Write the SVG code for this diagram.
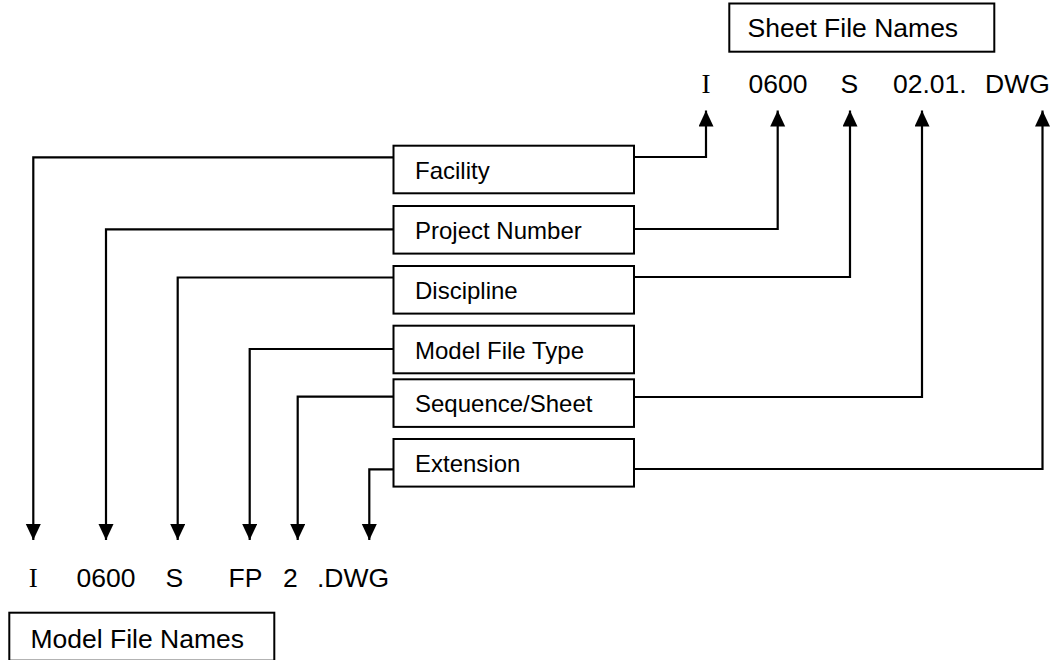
<svg xmlns="http://www.w3.org/2000/svg" width="1063" height="660" viewBox="0 0 1063 660">
<style>
  .box{fill:#fff;stroke:#000;stroke-width:2}
  .lbl{font-family:"Liberation Sans",Arial,sans-serif;font-size:24px;fill:#000}
  .hd{font-family:"Liberation Sans",Arial,sans-serif;font-size:26.5px;fill:#000}
  .ser{font-family:"Liberation Serif","Times New Roman",serif;font-size:27px;fill:#000}
  .conn{fill:none;stroke:#000;stroke-width:2.2;marker-end:url(#ah)}
</style>
<defs>
  <marker id="ah" markerUnits="userSpaceOnUse" markerWidth="15" markerHeight="16" refX="16" refY="7.5" orient="auto">
    <path d="M0,0 L16,7.5 L0,15 z" fill="#000"/>
  </marker>
</defs>
<rect width="1063" height="660" fill="#fff"/>
<g id="connectors">
  <polyline class="conn" points="393.5,157.3 33.3,157.3 33.3,540"/>
  <polyline class="conn" points="393.5,229.3 106,229.3 106,540"/>
  <polyline class="conn" points="393.5,277.5 177.7,277.5 177.7,540"/>
  <polyline class="conn" points="393.5,349 249.7,349 249.7,540"/>
  <polyline class="conn" points="393.5,396.7 297.7,396.7 297.7,540"/>
  <polyline class="conn" points="393.5,469.3 369.3,469.3 369.3,540"/>
  <polyline class="conn" points="634,157 706,157 706,110.5"/>
  <polyline class="conn" points="634,229 777.7,229 777.7,110.5"/>
  <polyline class="conn" points="634,277 850,277 850,110.5"/>
  <polyline class="conn" points="634,397 922,397 922,110.5"/>
  <polyline class="conn" points="634,469 1042.5,469 1042.5,110.5"/>
</g>
<g id="sheet-file-names">
  <rect class="box" x="729.3" y="3.5" width="265" height="48.2"/>
  <text class="hd" x="747.5" y="37.3">Sheet File Names</text>
</g>
<g id="sheet-row">
  <text class="ser" x="706" y="93" text-anchor="middle">I</text>
  <text class="hd" x="748.5" y="93">0600</text>
  <text class="hd" x="840.5" y="93">S</text>
  <text class="hd" x="893" y="93">02.01.</text>
  <text class="hd" x="985" y="93">DWG</text>
</g>
<g id="facility">
  <rect class="box" x="393.5" y="145.7" width="240.5" height="47.6"/>
  <text class="lbl" x="415" y="178.7">Facility</text>
</g>
<g id="project-number">
  <rect class="box" x="393.5" y="206" width="240.5" height="47.6"/>
  <text class="lbl" x="415" y="239">Project Number</text>
</g>
<g id="discipline">
  <rect class="box" x="393.5" y="266" width="240.5" height="47.6"/>
  <text class="lbl" x="415" y="299">Discipline</text>
</g>
<g id="model-file-type">
  <rect class="box" x="393.5" y="325.7" width="240.5" height="47.6"/>
  <text class="lbl" x="415" y="358.7">Model File Type</text>
</g>
<g id="sequence-sheet">
  <rect class="box" x="393.5" y="379.3" width="240.5" height="47.6"/>
  <text class="lbl" x="415" y="412.3">Sequence/Sheet</text>
</g>
<g id="extension">
  <rect class="box" x="393.5" y="439" width="240.5" height="47.6"/>
  <text class="lbl" x="415" y="472">Extension</text>
</g>
<g id="model-row">
  <text class="ser" x="33.3" y="587" text-anchor="middle">I</text>
  <text class="hd" x="76.5" y="587">0600</text>
  <text class="hd" x="165.5" y="587">S</text>
  <text class="hd" x="228.5" y="587">FP</text>
  <text class="hd" x="283" y="587">2</text>
  <text class="hd" x="317" y="587">.DWG</text>
</g>
<g id="model-file-names">
  <rect class="box" x="9.3" y="612.7" width="265" height="48"/>
  <text class="hd" x="30.5" y="647.7">Model File Names</text>
</g>
</svg>
